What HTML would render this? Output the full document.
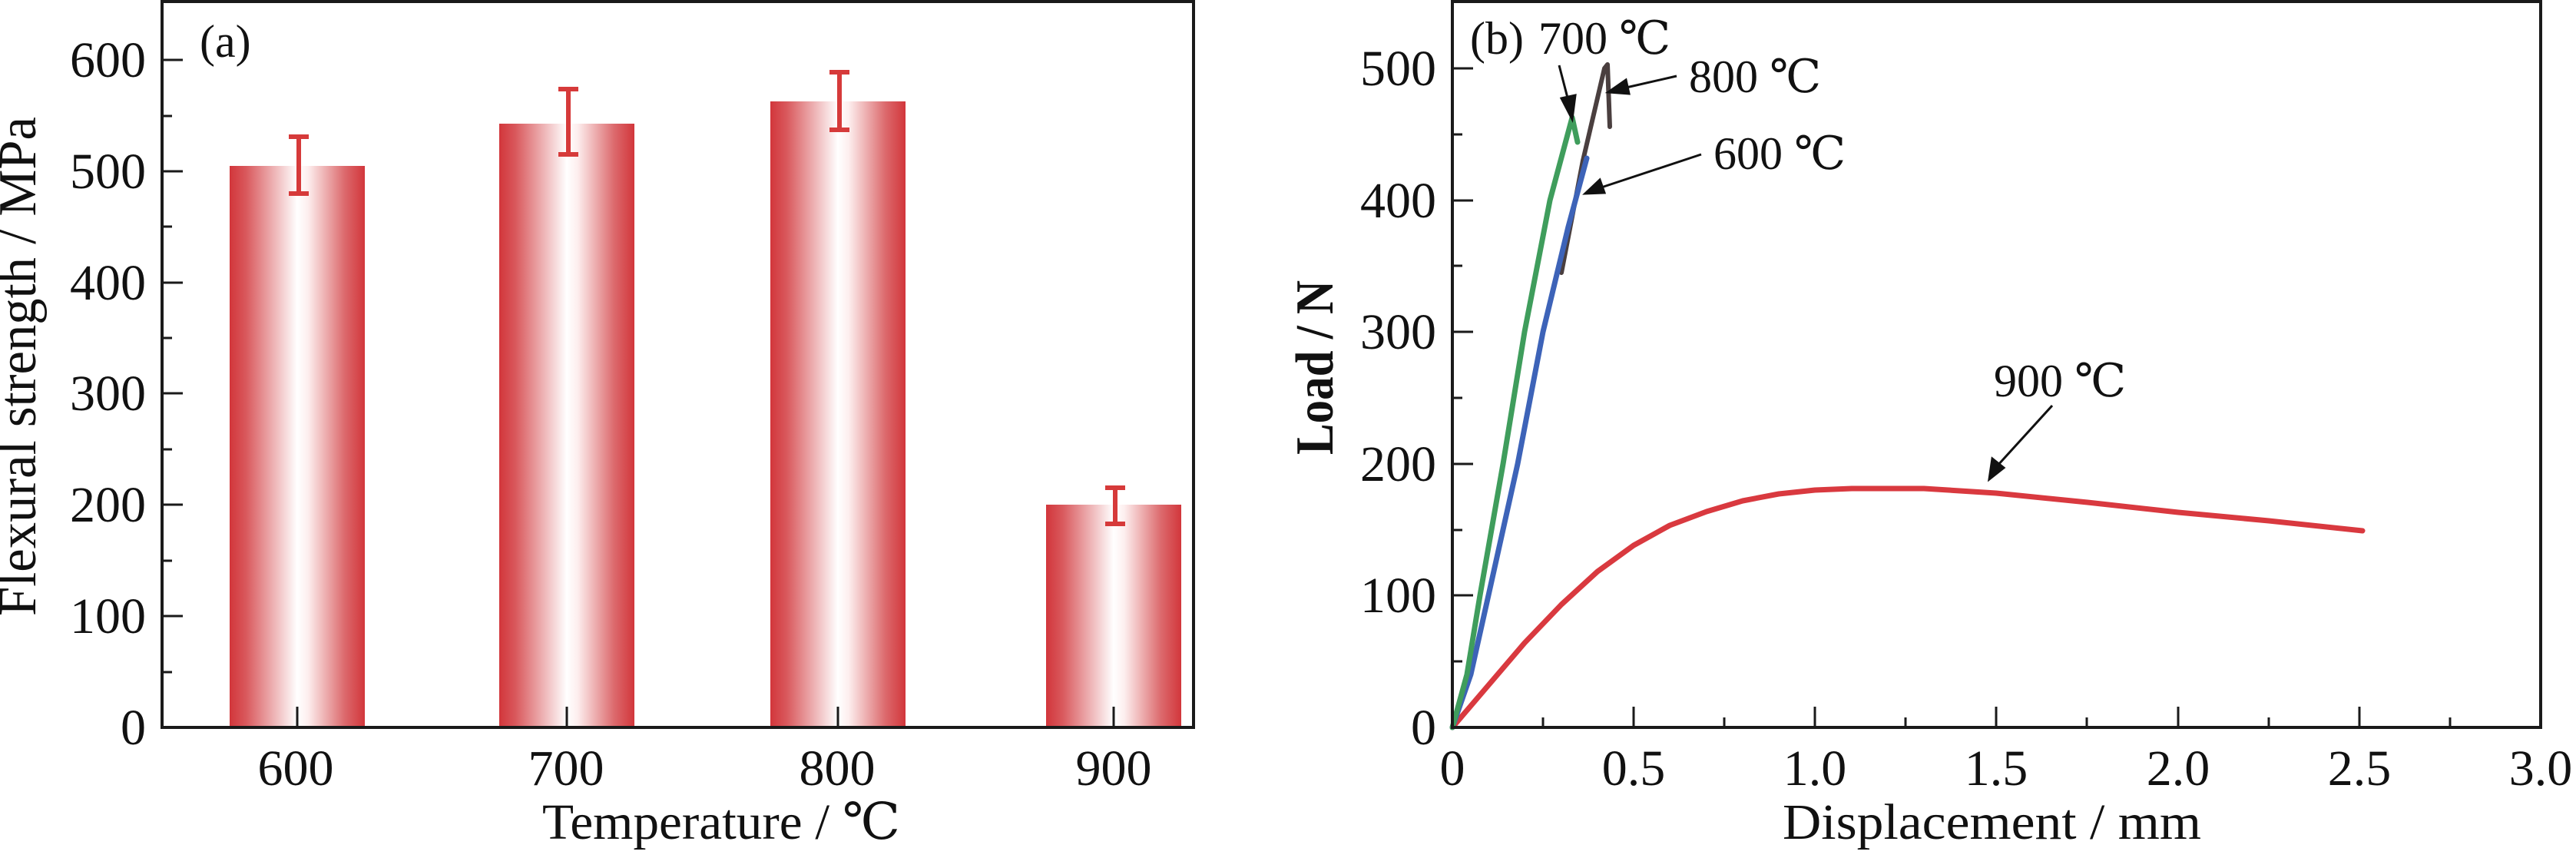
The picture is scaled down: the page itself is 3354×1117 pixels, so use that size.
<!DOCTYPE html>
<html><head><meta charset="utf-8"><style>html,body{margin:0;padding:0;background:#fff}text{font-family:"Liberation Serif","DejaVu Serif",serif}</style></head>
<body>
<svg width="3354" height="1112" viewBox="0 0 3354 1112" xmlns="http://www.w3.org/2000/svg">
<defs>
<linearGradient id="bg" x1="0" x2="1" y1="0" y2="0">
<stop offset="0" stop-color="#d2363b"/><stop offset="0.12" stop-color="#d9585c"/>
<stop offset="0.5" stop-color="#ffffff"/><stop offset="0.58" stop-color="#fdeeee"/>
<stop offset="0.85" stop-color="#dc6a6d"/><stop offset="1" stop-color="#d2363b"/>
</linearGradient>
</defs>
<!-- Panel a -->
<g>
<rect x="299" y="216" width="176" height="731" fill="url(#bg)"/>
<rect x="650" y="161" width="176" height="786" fill="url(#bg)"/>
<rect x="1003" y="132" width="176" height="815" fill="url(#bg)"/>
<rect x="1362" y="657" width="176" height="290" fill="url(#bg)"/>
<g stroke="#d63a3a" stroke-width="6" fill="none">
<path d="M389 252V178M376 178h26M376 252h26"/>
<path d="M740 201V116M727 116h26M727 201h26"/>
<path d="M1093 169V94M1080 94h26M1080 169h26"/>
<path d="M1452 682V635M1439 635h26M1439 682h26"/>
</g>
<rect x="211" y="2" width="1343" height="945" fill="none" stroke="#1a1a1a" stroke-width="4"/>
<g stroke="#1a1a1a" stroke-width="3">
<path d="M211 78h27M211 223h27M211 368h27M211 512h27M211 657h27M211 802h27"/>
<path d="M211 151h13M211 295h13M211 440h13M211 585h13M211 730h13M211 875h13"/>
<path d="M387 947v-27M738 947v-27M1091 947v-27M1450 947v-27"/>
</g>
<g font-size="66" text-anchor="end" fill="#111">
<text x="190" y="100">600</text><text x="190" y="245">500</text><text x="190" y="390">400</text>
<text x="190" y="534">300</text><text x="190" y="679">200</text><text x="190" y="824">100</text><text x="190" y="969">0</text>
</g>
<g font-size="66" text-anchor="middle" fill="#111">
<text x="385" y="1022">600</text><text x="737" y="1022">700</text>
<text x="1090" y="1022">800</text><text x="1450" y="1022">900</text>
</g>
<text x="706" y="1092" font-size="66" fill="#111" textLength="466" lengthAdjust="spacingAndGlyphs">Temperature / ℃</text>
<text x="260" y="74" font-size="60" fill="#111">(a)</text>
<text transform="translate(46,802) rotate(-90)" font-size="70" fill="#111" textLength="650" lengthAdjust="spacingAndGlyphs">Flexural strength / MPa</text>
</g>
<!-- Panel b -->
<g>
<g fill="none" stroke-linejoin="round" stroke-linecap="round">
<path d="M1891 947 L1938 892 L1985 837 L2033 787 L2080 744 L2127 710 L2174 684 L2222 666 L2269 652 L2316 643 L2363 638 L2411 636 L2505 636 L2599 642 L2718 654 L2836 667 L2954 678 L3076 691" stroke="#d9393f" stroke-width="7"/>
<path d="M2033 355 L2061 209 L2089 89 L2093 84 L2096 165" stroke="#4a3f3f" stroke-width="6"/>
<path d="M1891 947 L1915 878 L1938 775 L1976 604 L2009 432 L2042 295 L2066 206" stroke="#3d63b8" stroke-width="7"/>
<path d="M1891 947 L1910 878 L1927 775 L1957 604 L1985 432 L2018 261 L2047 153 L2054 185" stroke="#3f9d5c" stroke-width="7"/>
</g>
<rect x="1891" y="2" width="1417" height="945" fill="none" stroke="#1a1a1a" stroke-width="4"/>
<g stroke="#1a1a1a" stroke-width="3">
<path d="M1891 89h27M1891 261h27M1891 432h27M1891 604h27M1891 775h27"/>
<path d="M1891 175h13M1891 346h13M1891 518h13M1891 690h13M1891 861h13"/>
<path d="M2127 947v-27M2363 947v-27M2599 947v-27M2836 947v-27M3072 947v-27"/>
<path d="M2009 947v-13M2245 947v-13M2481 947v-13M2717 947v-13M2954 947v-13M3190 947v-13"/>
</g>
<g font-size="66" text-anchor="end" fill="#111">
<text x="1870" y="111">500</text><text x="1870" y="283">400</text><text x="1870" y="454">300</text>
<text x="1870" y="626">200</text><text x="1870" y="797">100</text><text x="1870" y="969">0</text>
</g>
<g font-size="66" text-anchor="middle" fill="#111">
<text x="1891" y="1022">0</text><text x="2127" y="1022">0.5</text><text x="2363" y="1022">1.0</text>
<text x="2599" y="1022">1.5</text><text x="2836" y="1022">2.0</text><text x="3072" y="1022">2.5</text><text x="3308" y="1022">3.0</text>
</g>
<text x="2321" y="1092" font-size="66" fill="#111" textLength="545" lengthAdjust="spacingAndGlyphs">Displacement / mm</text>
<text transform="translate(1735,592) rotate(-90)" font-size="70" font-weight="bold" fill="#111" textLength="227" lengthAdjust="spacingAndGlyphs">Load / N</text>
<g font-size="60" fill="#111">
<text x="1914" y="70">(b)</text>
<text x="2003" y="70">700 ℃</text>
<text x="2199" y="120">800 ℃</text>
<text x="2231" y="220">600 ℃</text>
<text x="2596" y="516">900 ℃</text>
</g>
<g stroke="#111" stroke-width="3" fill="#111">
<line x1="2030" y1="85" x2="2043" y2="135"/><polygon points="2047,155 2033,128 2051,124"/>
<line x1="2183" y1="99" x2="2113" y2="115"/><polygon points="2094,120 2117,104 2121,122"/>
<line x1="2215" y1="201" x2="2082" y2="245"/><polygon points="2064,252 2083,234 2089,251"/>
<line x1="2672" y1="528" x2="2600" y2="607"/><polygon points="2590,624 2594,597 2609,609"/>
</g>
</g>
</svg>
</body></html>
